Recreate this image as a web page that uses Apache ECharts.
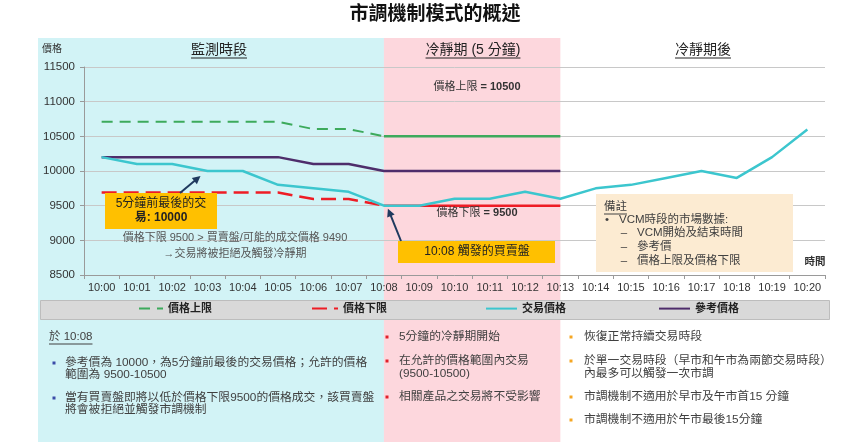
<!DOCTYPE html>
<html><head><meta charset="utf-8">
<script src="https://cdn.jsdelivr.net/npm/echarts@6/dist/echarts.min.js"></script>
<style>html,body{margin:0;padding:0;background:#fff}#c{width:851px;height:447px}</style>
</head><body><div id="c"></div>
<script>
// ---------- data ----------
const times = ['10:00','10:01','10:02','10:03','10:04','10:05','10:06','10:07','10:08','10:09','10:10',
               '10:11','10:12','10:13','10:14','10:15','10:16','10:17','10:18','10:19','10:20'];
const yMin = 8500, yMax = 11500, yStep = 500;
const seriesNames = ['價格上限', '價格下限', '交易價格', '參考價格'];
// monitoring period 10:00-10:08 (dashed)
const upperMonitor = [10710,10710,10710,10710,10710,10710,10605,10605,10500];
const lowerMonitor = [9690,9690,9690,9690,9690,9690,9595,9595,9500];
// cooling-off period 10:08-10:13 (solid)
const upperCooling = [10500,10500,10500,10500,10500,10500];
const lowerCooling = [9500,9500,9500,9500,9500,9500];
const referencePrice = [10200,10200,10200,10200,10200,10200,10100,10100,10000,10000,10000,10000,10000,10000];
const tradePrice = [10200,10100,10100,10000,10000,9800,9750,9700,9500,9500,9600,9600,9700,9600,9750,9800,9900,10000,9900,10200,10600];
const coolingStart = '10:08', coolingEnd = '10:13';
const lastTradeLabelTime = '10:03', lastTradeValue = 10000;
const triggerValue = 9500;

// ---------- helpers ----------
const FF = "'Liberation Sans','Noto Sans CJK TC',sans-serif";
function place(arr, startTime) {
  const s = times.indexOf(startTime);
  const out = times.map(() => '-');
  arr.forEach((v, i) => { out[s + i] = v; });
  return out;
}
const C = { upper: '#3DAA5C', lower: '#EE1C25', trade: '#3CC6CE', ref: '#4E2D6B' };

const chart = echarts.init(document.getElementById('c'));
chart.setOption({
  backgroundColor: '#fff',
  animation: false,
  grid: { left: 84, right: 26, top: 67, bottom: 172 },
  legend: [
    { data: [seriesNames[0]], left: 138, top: 303, itemWidth: 24 },
    { data: [seriesNames[1]], left: 311, top: 303, itemWidth: 26 },
    { data: [seriesNames[2]], left: 485, top: 303, itemWidth: 31 },
    { data: [seriesNames[3]], left: 658, top: 303, itemWidth: 31 }
  ].map(l => Object.assign({ padding: 0, itemHeight: 14, selectedMode: false, itemGap: 4,
    itemStyle: { opacity: 0 },
    textStyle: { fontSize: 11, fontWeight: 'bold', color: '#222', fontFamily: FF } }, l)),
  xAxis: {
    type: 'category', data: times, boundaryGap: true,
    axisLine: { show: true, lineStyle: { color: '#9a9a9a' } },
    axisTick: { show: true, length: 4, lineStyle: { color: '#9a9a9a' } },
    axisLabel: { interval: 0, fontSize: 11, color: '#333', margin: 7, fontFamily: FF },
    splitLine: { show: false }
  },
  yAxis: {
    type: 'value', min: yMin, max: yMax, interval: yStep,
    axisLine: { show: true, lineStyle: { color: '#9a9a9a' } },
    axisTick: { show: true, length: 4, lineStyle: { color: '#9a9a9a' } },
    axisLabel: { fontSize: 11.5, color: '#333', margin: 9, fontFamily: FF, formatter: v => String(v) },
    splitLine: { show: true, lineStyle: { color: '#c8c8c8', width: 1 } }
  },
  series: [
    { name: seriesNames[0], type: 'line', data: place(upperMonitor, '10:00'), symbol: 'none',
      itemStyle: { color: C.upper }, lineStyle: { color: C.upper, width: 2, type: [11, 7] }, z: 3 },
    { name: seriesNames[0], type: 'line', data: place(upperCooling, coolingStart), symbol: 'none',
      itemStyle: { color: C.upper }, lineStyle: { color: C.upper, width: 2.5 }, z: 3 },
    { name: seriesNames[1], type: 'line', data: place(lowerMonitor, '10:00'), symbol: 'none',
      itemStyle: { color: C.lower }, lineStyle: { color: C.lower, width: 2.5, type: [15, 7] }, z: 3 },
    { name: seriesNames[1], type: 'line', data: place(lowerCooling, coolingStart), symbol: 'none',
      itemStyle: { color: C.lower }, lineStyle: { color: C.lower, width: 2.5 }, z: 3 },
    { name: seriesNames[3], type: 'line', data: place(referencePrice, '10:00'), symbol: 'none',
      itemStyle: { color: C.ref }, lineStyle: { color: C.ref, width: 2.5 }, z: 4 },
    { name: seriesNames[2], type: 'line', data: tradePrice, symbol: 'none',
      itemStyle: { color: C.trade }, lineStyle: { color: C.trade, width: 2.5 }, z: 5 }
  ]
});

// ---------- decorations ----------
const P = (t, v) => chart.convertToPixel({ xAxisIndex: 0, yAxisIndex: 0 }, [times.indexOf(t), v]);
const xCool0 = P(coolingStart, yMin)[0];
const xCool1 = P(coolingEnd, yMin)[0];
const measureCtx = document.createElement('canvas').getContext('2d');
function tw(text, size, weight) {
  measureCtx.font = (weight || 'normal') + ' ' + size + 'px ' + FF;
  return measureCtx.measureText(text).width;
}
function txt(x, y, text, o) {
  return { type: 'text', z: 10, silent: true,
    style: Object.assign({ x, y, text, fontSize: 11.8, fontFamily: FF, fill: '#404040',
      align: 'left', verticalAlign: 'middle' }, o || {}) };
}
function uline(x, y, text, size, weight, align, color) {
  const w = tw(text, size, weight);
  const x1 = align === 'center' ? x - w / 2 : x;
  return { type: 'line', z: 10, silent: true, shape: { x1: x1, y1: y, x2: x1 + w, y2: y },
    style: { stroke: color || '#333', lineWidth: 1 } };
}
function rect(x, y, w, h, fill, z, stroke) {
  return { type: 'rect', z: z, silent: true, shape: { x, y, width: w, height: h },
    style: { fill, stroke: stroke || null, lineWidth: stroke ? 1 : 0 } };
}
function arrow(sx, sy, tx, ty, color) {
  const dx = tx - sx, dy = ty - sy, L = Math.hypot(dx, dy);
  const ux = dx / L, uy = dy / L, nx = -uy, ny = ux, hl = 8, hw = 4;
  const bx = tx - ux * hl, by = ty - uy * hl;
  return [
    { type: 'line', z: 11, silent: true, shape: { x1: sx, y1: sy, x2: bx + ux * 2, y2: by + uy * 2 },
      style: { stroke: color, lineWidth: 2 } },
    { type: 'polygon', z: 11, silent: true,
      shape: { points: [[tx, ty], [bx + nx * hw, by + ny * hw], [bx - nx * hw, by - ny * hw]] },
      style: { fill: color } }
  ];
}
function bullet(x, y, color) { return rect(x - 1.5, y - 1.5, 3, 3, color, 10); }

const arrowColor = '#1F3A5F';
const t1 = P(lastTradeLabelTime, lastTradeValue);
const t2 = P(coolingStart, triggerValue);
const els = [
  rect(38, 38, xCool0 - 38, 404, '#D2F3F6', -10),
  rect(xCool0, 38, xCool1 - xCool0, 404, '#FDD7DD', -10),
  rect(40.5, 300.5, 789, 19, '#D9D9D9', 1, '#BDBDBD'),
  // title
  txt(435, 15, '市調機制模式的概述', { fontSize: 19, fontWeight: 'bold', fill: '#111', align: 'center' }),
  // section titles
  txt(219, 50, '監測時段', { fontSize: 14, fill: '#222', align: 'center' }),
  uline(219, 58, '監測時段', 14, 'normal', 'center', '#222'),
  txt(473, 50, '冷靜期 (5 分鐘)', { fontSize: 14, fill: '#222', align: 'center' }),
  uline(473, 58, '冷靜期 (5 分鐘)', 14, 'normal', 'center', '#222'),
  txt(703, 50, '冷靜期後', { fontSize: 14, fill: '#222', align: 'center' }),
  uline(703, 58, '冷靜期後', 14, 'normal', 'center', '#222'),
  // axis names
  txt(52, 49, '價格', { fontSize: 10, fill: '#333', align: 'center' }),
  txt(815, 262, '時間', { fontSize: 10.5, fontWeight: 'bold', fill: '#333', align: 'center' }),
  // limit labels
  { type: 'text', z: 10, silent: true, style: { x: 477, y: 87, align: 'center', verticalAlign: 'middle',
    text: '{a|價格上限 }{b|= 10500}',
    rich: { a: { fontSize: 11, fill: '#333', fontFamily: FF }, b: { fontSize: 11, fontWeight: 'bold', fill: '#333', fontFamily: FF } } } },
  { type: 'text', z: 10, silent: true, style: { x: 477, y: 213, align: 'center', verticalAlign: 'middle',
    text: '{a|價格下限 }{b|= 9500}',
    rich: { a: { fontSize: 11, fill: '#333', fontFamily: FF }, b: { fontSize: 11, fontWeight: 'bold', fill: '#333', fontFamily: FF } } } },
  // box 1
  rect(105, 193, 112, 36, '#FFC000', 9),
  txt(161, 204, '5分鐘前最後的交', { fontSize: 12, fill: '#222', align: 'center' }),
  txt(161, 218, '易: 10000', { fontSize: 12, fontWeight: 'bold', fill: '#222', align: 'center' }),
  ...arrow(180, 193, t1[0] - 7, t1[1] + 5, arrowColor),
  txt(235, 238, '價格下限 9500 > 買賣盤/可能的成交價格 9490', { fontSize: 11, fill: '#555', align: 'center' }),
  txt(235, 254, '→交易將被拒絕及觸發冷靜期', { fontSize: 11, fill: '#555', align: 'center' }),
  // box 2
  rect(398, 241, 157, 22, '#FFC000', 9),
  txt(477, 252, '10:08 觸發的買賣盤', { fontSize: 12, fill: '#222', align: 'center' }),
  ...arrow(401, 241, t2[0] + 4, t2[1] + 3, arrowColor),
  // note box
  rect(596, 194, 197, 78, '#FCEBD2', 9),
  txt(604, 207, '備註', { fontSize: 11.5 }),
  uline(604, 214, '備註', 11.5, 'normal', 'left', '#404040'),
  txt(607, 220, '•', { fontSize: 11.5, align: 'center' }),
  txt(619, 220, 'VCM時段的市場數據:', { fontSize: 11.5 }),
  txt(624, 233, '–', { fontSize: 11.5, align: 'center' }),
  txt(637, 233, 'VCM開始及結束時間', { fontSize: 11.5 }),
  txt(624, 247, '–', { fontSize: 11.5, align: 'center' }),
  txt(637, 247, '參考價', { fontSize: 11.5 }),
  txt(624, 261, '–', { fontSize: 11.5, align: 'center' }),
  txt(637, 261, '價格上限及價格下限', { fontSize: 11.5 }),
  // bottom cyan panel
  txt(49, 337, '於 10:08', { fontSize: 11.5 }),
  uline(49, 344, '於 10:08', 11.5, 'normal', 'left', '#404040'),
  bullet(54, 363, '#3B4BA8'),
  txt(65, 363, '參考價為 10000，為5分鐘前最後的交易價格；允許的價格'),
  txt(65, 375, '範圍為 9500-10500'),
  bullet(54, 398, '#3B4BA8'),
  txt(65, 398, '當有買賣盤即將以低於價格下限9500的價格成交，該買賣盤'),
  txt(65, 410, '將會被拒絕並觸發市調機制'),
  // bottom pink panel
  bullet(387, 337, '#E0202A'),
  txt(399, 337, '5分鐘的冷靜期開始'),
  bullet(387, 361, '#E0202A'),
  txt(399, 361, '在允許的價格範圍內交易'),
  txt(399, 374, '(9500-10500)'),
  bullet(387, 397, '#E0202A'),
  txt(399, 397, '相關產品之交易將不受影響'),
  // bottom white panel
  bullet(571, 337, '#F5A623'),
  txt(584, 337, '恢復正常持續交易時段'),
  bullet(571, 361, '#F5A623'),
  txt(584, 361, '於單一交易時段（早市和午市為兩節交易時段）'),
  txt(584, 374, '內最多可以觸發一次市調'),
  bullet(571, 397, '#F5A623'),
  txt(584, 397, '市調機制不適用於早市及午市首15 分鐘'),
  bullet(571, 420, '#F5A623'),
  txt(584, 420, '市調機制不適用於午市最後15分鐘')
];
chart.setOption({ graphic: { elements: els } });
</script></body></html>
